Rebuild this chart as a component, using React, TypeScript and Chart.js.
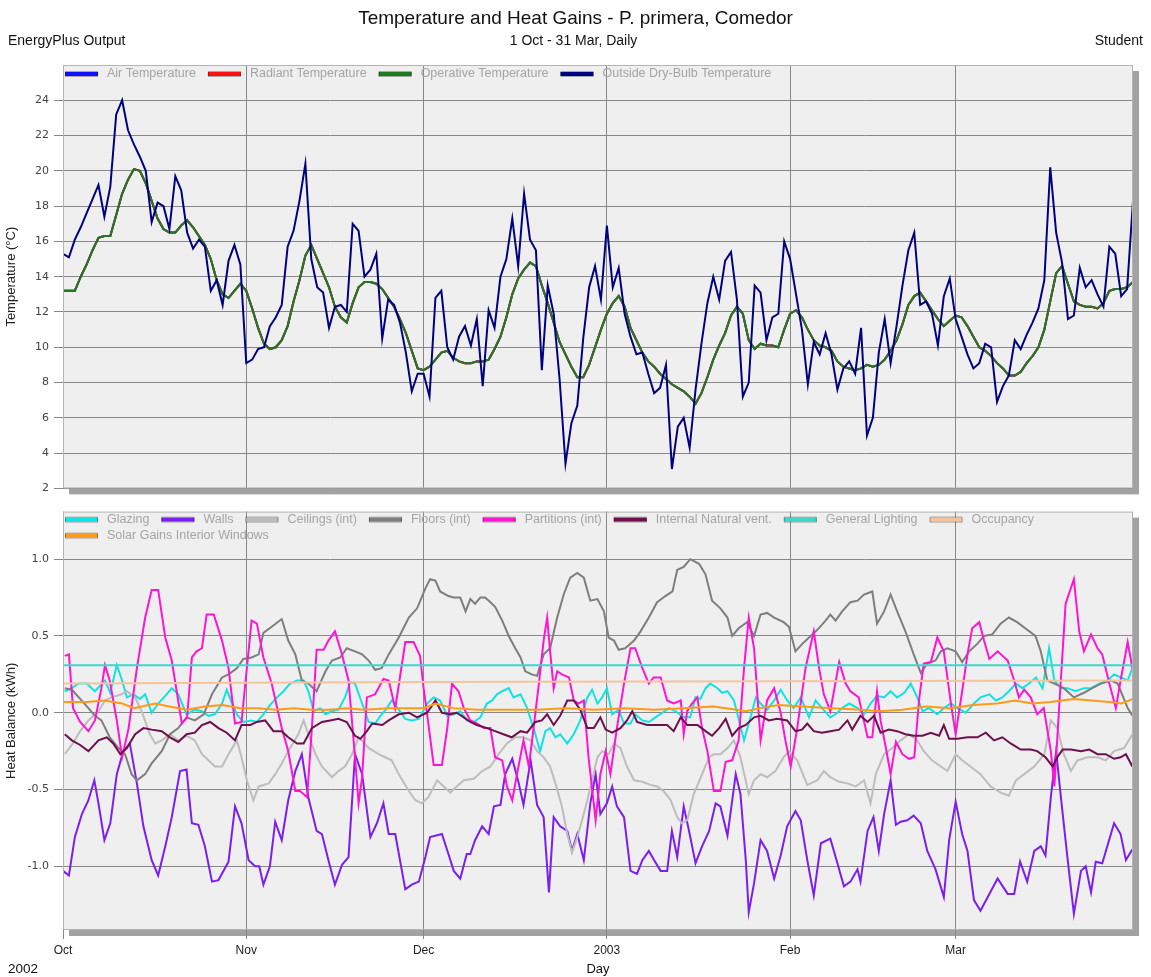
import { useEffect, useRef } from "react";
import { Chart, registerables } from "chart.js";

Chart.register(...registerables);

const FONT = "'Liberation Sans', Arial, sans-serif";
const TICK_FONT = "'DejaVu Sans', Verdana, sans-serif";

// ---------- axes ----------
const monthTicks = [0, 31, 61, 92, 123, 151];
const monthLabels = ["Oct", "Nov", "Dec", "2003", "Feb", "Mar"];
const tempTicks = [2, 4, 6, 8, 10, 12, 14, 16, 18, 20, 22, 24];
const heatTicks = [-1, -0.5, 0, 0.5, 1];

// ---------- top chart: daily temperatures (1 Oct .. 31 Mar) ----------
const outsideTemp = [
  15.3, 15.1, 16.1, 16.8, 17.6, 18.4, 19.2, 17.4, 19.1, 23.2,
  24.0, 22.3, 21.5, 20.8, 20.0, 17.1, 18.2, 18.0, 16.7, 19.7,
  18.9, 16.5, 15.6, 16.1, 15.7, 13.2, 13.8, 12.4, 14.9, 15.8,
  14.7, 9.1, 9.3, 9.9, 10.0, 11.2, 11.7, 12.4, 15.7, 16.6,
  18.3, 20.4, 15.0, 13.4, 13.1, 11.1, 12.3, 12.4, 12.0, 17.0,
  16.6, 14.0, 14.4, 15.3, 10.5, 12.7, 12.4, 11.4, 9.7, 7.5,
  8.5, 8.5, 7.2, 12.8, 13.2, 10.0, 9.3, 10.6, 11.2, 10.1,
  11.6, 7.8, 12.1, 11.1, 14.0, 15.0, 17.3, 14.6, 18.7, 16.1,
  15.5, 8.7, 13.5, 11.9, 8.2, 3.4, 5.7, 6.7, 10.5, 13.4,
  14.6, 12.7, 16.9, 13.4, 14.5, 11.9, 10.6, 9.6, 9.7, 8.5,
  7.4, 7.7, 9.0, 3.1, 5.5, 6.0, 4.3, 7.6, 10.2, 12.5,
  14.0, 12.7, 14.9, 15.4, 12.7, 7.2, 8.0, 13.5, 13.1, 10.4,
  11.7, 11.9, 16.0, 15.0, 13.0, 11.0, 7.9, 10.3, 9.6, 10.8,
  9.6, 7.6, 8.8, 9.2, 8.5, 11.1, 5.0, 6.0, 9.7, 11.6,
  9.1, 11.2, 13.5, 15.5, 16.5, 12.4, 12.6, 11.9, 10.1, 12.9,
  13.9, 11.6, 10.6, 9.6, 8.8, 9.1, 10.2, 10.0, 6.9, 7.8,
  8.4, 10.4, 9.9, 10.7, 11.4, 12.2, 13.8, 20.2, 16.5, 14.8,
  11.6, 11.8, 14.5, 13.4, 13.8, 13.0, 12.3, 15.7, 15.3, 12.9,
  13.3, 18.3,
];

const operativeTemp = [
  13.2, 13.2, 13.2, 14.0, 14.7, 15.5, 16.2, 16.3, 16.3, 17.5,
  18.7, 19.5, 20.1, 20.0, 19.3, 18.3, 17.3, 16.7, 16.5, 16.5,
  16.9, 17.2, 16.8, 16.3, 15.8, 15.0, 13.8, 13.0, 12.8, 13.2,
  13.6, 13.2, 12.2, 11.1, 10.2, 9.9, 10.0, 10.4, 11.2, 12.6,
  13.8, 15.2, 15.8, 15.0, 14.2, 13.4, 12.3, 11.7, 11.4, 12.5,
  13.4, 13.7, 13.7, 13.6, 13.3, 12.8, 12.3, 11.6, 10.8, 9.8,
  8.8, 8.7, 8.9, 9.3, 9.7, 9.8, 9.4, 9.2, 9.1, 9.1,
  9.2, 9.2, 9.3, 9.9, 10.6, 11.7, 13.0, 13.9, 14.4, 14.8,
  14.6, 13.5, 12.5, 11.4, 10.3, 9.6, 8.9, 8.3, 8.3, 9.0,
  10.0, 11.0, 11.9, 12.5, 12.9, 12.3, 11.1, 10.4, 9.7, 9.2,
  8.9, 8.5, 8.2, 7.9, 7.7, 7.5, 7.2, 6.8, 7.4, 8.3,
  9.3, 10.1, 10.8, 11.8, 12.3, 11.9, 10.4, 9.9, 10.2, 10.1,
  10.1, 10.0, 11.0, 11.9, 12.1, 11.7, 11.0, 10.4, 10.1, 10.0,
  9.8, 9.2, 8.9, 8.8, 8.7, 8.8, 9.0, 8.9, 9.0, 9.3,
  9.8, 10.4, 11.3, 12.4, 12.9, 13.1, 12.6, 12.1, 11.6, 11.2,
  11.5, 11.8, 11.7, 11.2, 10.6, 10.0, 9.8, 9.5, 9.1, 8.8,
  8.4, 8.4, 8.6, 9.1, 9.5, 10.0, 11.0, 12.6, 14.2, 14.6,
  13.6, 12.6, 12.4, 12.3, 12.3, 12.2, 12.5, 13.2, 13.3, 13.3,
  13.4, 13.7,
];

// air and radiant temperatures coincide with operative temperature at this scale
const airTemp = operativeTemp;
const radiantTemp = operativeTemp;

// ---------- bottom chart: heat balance [day, kWh] ----------
type P = [number, number];

const glazing: P[] = [
  [0.3,0.14],[1.5,0.16],[2.6,0.19],[4,0.19],[5.4,0.14],[7.1,0.21],[8,0.13],[9.1,0.31],[10,0.21],[10.8,0.10],
  [11.9,0.12],[13,0.09],[13.9,0.12],[15,0.0],[16.1,0.06],[17.3,0.11],[18.4,0.16],[19.5,0.12],[20.9,-0.01],[22.3,0.02],
  [23.5,0.01],[24.6,-0.02],[25.7,-0.01],[26.9,0.06],[27.7,0.15],[28.6,0.06],[29.4,-0.01],[30.5,-0.06],[31.9,-0.05],[32.8,-0.06],
  [33.9,-0.01],[35,0.05],[36.2,0.10],[37.3,0.14],[38.4,0.19],[39.6,0.21],[40.7,0.21],[41.5,0.14],[42.4,0.01],[43.5,0.03],
  [44.4,-0.01],[45.5,0.01],[46.6,0.02],[47.7,0.10],[48.6,0.20],[49.4,0.19],[50.6,0.06],[51.7,-0.06],[52.8,-0.07],[53.7,-0.02],
  [54.8,0.03],[55.6,0.08],[56.8,0.02],[57.9,-0.04],[59,-0.05],[60.2,-0.04],[61.6,0.06],[62.7,0.10],[63.8,0.08],[65,-0.02],
  [66.1,-0.01],[67.2,0.01],[68.3,-0.05],[69.5,-0.06],[70.6,-0.03],[71.7,0.06],[72.6,0.08],[73.4,0.12],[74.3,0.14],[75.4,0.16],
  [76.2,0.10],[77.4,0.12],[78.5,0.03],[79.6,-0.10],[80.7,-0.25],[81.6,-0.12],[82.4,-0.10],[83.3,-0.16],[84.1,-0.14],[85.3,-0.20],
  [86.4,-0.14],[87.5,-0.05],[88.7,0.10],[89.5,0.15],[90.4,0.06],[91.2,0.10],[92,0.16],[92.9,-0.01],[94,0.02],[94.9,-0.07],
  [96,-0.07],[96.8,-0.01],[98,-0.05],[99.1,-0.06],[100.2,-0.03],[101.4,0.0],[102.5,0.03],[103.6,0.01],[105,-0.03],[106.1,-0.03],
  [107,0.10],[107.8,0.09],[108.7,0.16],[109.5,0.19],[110.7,0.16],[111.5,0.13],[112.4,0.14],[113.5,0.08],[114.3,-0.04],[115.2,-0.18],
  [116.3,-0.03],[117.2,0.10],[118,0.06],[119.1,0.02],[120.3,0.08],[121.4,0.15],[122.5,0.08],[123.6,0.03],[124.8,0.10],[126.2,-0.03],
  [127.3,0.08],[128.4,0.03],[129.8,-0.03],[131,0.0],[131.8,0.03],[133,0.06],[134.4,0.03],[135.5,-0.01],[136.6,0.06],[137.7,0.11],
  [138.9,0.10],[140,0.14],[141.1,0.10],[142.3,0.13],[143.4,0.19],[144.5,0.10],[145.4,0.01],[146.5,0.03],[147.9,-0.01],[149,0.03],
  [150.2,0.06],[151.3,0.03],[152.7,0.0],[154.1,0.06],[155.2,0.10],[156.7,0.12],[157.8,0.08],[158.9,0.10],[160,0.14],[161.2,0.19],
  [162.3,0.16],[163.4,0.19],[164.6,0.23],[165.7,0.16],[166.8,0.42],[167.7,0.21],[168.8,0.16],[169.9,0.16],[171.3,0.14],[172.7,0.16],
  [173.9,0.16],[175.3,0.19],[176.7,0.21],[177.8,0.25],[178.9,0.23],[180.1,0.21],[180.9,0.29],
];

const walls: P[] = [
  [0,-1.03],[1,-1.06],[2,-0.81],[3.2,-0.66],[4.3,-0.57],[5.3,-0.44],[6,-0.59],[7,-0.83],[8,-0.72],[9.1,-0.40],
  [10.2,-0.25],[11.3,-0.20],[12.5,-0.46],[13.6,-0.74],[15,-0.96],[16.1,-1.06],[17.3,-0.87],[18.4,-0.68],[19.8,-0.38],[20.9,-0.37],
  [21.8,-0.72],[22.9,-0.73],[24,-0.87],[25.2,-1.10],[26.3,-1.09],[28,-0.97],[29.1,-0.61],[30.2,-0.72],[31.4,-0.96],[32.5,-1.0],
  [33.2,-1.0],[33.9,-1.12],[35,-1.0],[35.9,-0.71],[37,-0.83],[38.1,-0.57],[39.3,-0.38],[40.4,-0.27],[41.5,-0.55],[42.9,-0.77],
  [43.8,-0.79],[44.9,-0.96],[46,-1.12],[47.2,-0.99],[48.3,-0.94],[49.4,-0.27],[50.6,-0.40],[52,-0.81],[53.1,-0.72],[54.2,-0.59],
  [55.1,-0.79],[56.2,-0.79],[57.9,-1.15],[59,-1.12],[60.2,-1.10],[61.3,-0.94],[62.1,-0.81],[64.1,-0.79],[65.2,-0.92],[66.1,-1.03],
  [67.2,-1.08],[68.3,-0.92],[68.9,-0.92],[69.7,-0.83],[70.9,-0.74],[72,-0.79],[72.9,-0.61],[74,-0.60],[74.8,-0.40],[76,-0.30],
  [77.1,-0.46],[77.9,-0.60],[79.1,-0.31],[80.2,-0.60],[81.3,-0.68],[82.2,-1.17],[83,-0.68],[84.1,-0.74],[85.3,-0.77],[86.1,-0.90],
  [87,-0.79],[88.1,-0.96],[89.2,-0.59],[90.1,-0.40],[90.9,-0.66],[92,-0.59],[92.9,-0.48],[93.7,-0.61],[94.9,-0.68],[96,-1.03],
  [97.1,-1.05],[98,-0.96],[99.1,-0.90],[100,-0.96],[101.1,-1.03],[102.2,-1.03],[103,-0.77],[103.9,-0.94],[105,-0.61],[105.9,-0.77],
  [107,-0.98],[108.1,-0.87],[109.3,-0.77],[110.4,-0.59],[111.2,-0.61],[112.4,-0.80],[113.8,-0.40],[114.6,-0.53],[115.5,-0.96],[116,-1.30],
  [116.9,-1.11],[118,-0.83],[119.1,-0.90],[120.3,-1.08],[121.4,-0.93],[122.5,-0.74],[123.9,-0.64],[124.8,-0.70],[125.9,-0.96],[127,-1.19],
  [128.2,-0.85],[129.8,-0.82],[131,-0.98],[132.1,-1.13],[133.2,-1.10],[134.4,-1.02],[134.9,-1.10],[136.1,-0.77],[137.1,-0.68],[138,-0.90],
  [138.9,-0.66],[140,-0.44],[140.9,-0.73],[141.7,-0.71],[142.8,-0.70],[143.9,-0.67],[145.1,-0.72],[146.2,-0.90],[147.6,-1.02],[149,-1.20],
  [149.9,-0.83],[151,-0.58],[152.1,-0.79],[153,-0.90],[154.1,-1.22],[155.2,-1.29],[156.7,-1.18],[158.1,-1.08],[159.8,-1.18],[160.9,-1.18],
  [161.9,-0.97],[163.1,-1.10],[164.3,-0.90],[165.4,-0.87],[166.2,-0.93],[167.1,-0.55],[168,-0.25],[168.8,-0.55],[169.9,-0.94],[171,-1.31],
  [172.2,-1.03],[173,-1.00],[173.9,-1.17],[174.7,-0.97],[175.8,-0.98],[177.8,-0.72],[178.9,-0.79],[179.8,-0.96],[180.9,-0.89],
];

const ceilings: P[] = [
  [0.3,-0.27],[1.5,-0.21],[2.9,-0.12],[4.3,-0.05],[6,0.01],[7.1,0.08],[8.2,0.10],[9.9,0.12],[10.8,0.14],[12.2,0.10],
  [13.3,0.01],[14.7,-0.14],[15.6,-0.20],[16.7,-0.18],[18.1,-0.14],[19.5,-0.18],[20.9,-0.15],[22.3,-0.18],[23.5,-0.27],[24.6,-0.31],
  [25.7,-0.35],[26.9,-0.35],[28,-0.27],[29.4,-0.18],[30.2,-0.29],[31.1,-0.44],[32.2,-0.57],[33.1,-0.48],[34.8,-0.46],[35.9,-0.40],
  [37,-0.33],[38.1,-0.25],[39.8,-0.14],[40.7,-0.05],[41.5,-0.14],[42.7,-0.27],[43.8,-0.35],[45.5,-0.42],[46.6,-0.38],[47.7,-0.35],
  [48.9,-0.27],[50,-0.16],[51.7,-0.23],[53.4,-0.27],[54.5,-0.29],[55.6,-0.31],[56.8,-0.40],[58.5,-0.51],[59.6,-0.57],[60.7,-0.59],
  [61.8,-0.55],[63.3,-0.44],[64.4,-0.48],[65.5,-0.52],[66.6,-0.48],[67.8,-0.44],[69.5,-0.43],[70.9,-0.38],[72.3,-0.35],[73.7,-0.27],
  [75.1,-0.20],[76.5,-0.16],[77.9,-0.16],[79.1,-0.18],[80.2,-0.25],[81.3,-0.29],[82.4,-0.35],[83.3,-0.46],[84.4,-0.61],[85.3,-0.79],
  [86.1,-0.91],[87,-0.81],[87.8,-0.70],[88.7,-0.57],[89.5,-0.44],[90.4,-0.29],[91.2,-0.25],[92.3,-0.27],[93.2,-0.20],[94.3,-0.23],
  [95.4,-0.35],[96.6,-0.44],[98,-0.45],[99.4,-0.47],[100.5,-0.48],[101.6,-0.51],[102.8,-0.57],[103.9,-0.68],[104.7,-0.72],[105.6,-0.70],
  [106.7,-0.53],[108.1,-0.40],[109.3,-0.29],[110.1,-0.27],[111.2,-0.27],[112.4,-0.23],[113.5,-0.18],[114.6,-0.29],[116,-0.53],[116.9,-0.44],
  [118,-0.40],[119.1,-0.42],[120.5,-0.38],[121.9,-0.29],[122.8,-0.25],[124.2,-0.31],[125.9,-0.47],[127.6,-0.44],[128.7,-0.38],[129.8,-0.42],
  [131.3,-0.45],[132.7,-0.46],[134.1,-0.48],[135.5,-0.44],[136.6,-0.59],[137.5,-0.40],[138.9,-0.27],[140.3,-0.23],[141.7,-0.18],[143.1,-0.14],
  [144.5,-0.18],[145.6,-0.25],[147,-0.31],[148.5,-0.35],[149.6,-0.38],[151,-0.27],[152.1,-0.31],[153.5,-0.35],[155.2,-0.40],[156.9,-0.48],
  [158.6,-0.52],[160,-0.54],[161.2,-0.44],[162.6,-0.40],[164.3,-0.35],[166,-0.27],[167.1,-0.05],[168.2,-0.10],[169.3,-0.27],[170.5,-0.38],
  [171.6,-0.31],[173.3,-0.29],[175,-0.29],[176.4,-0.31],[177.8,-0.25],[179.5,-0.23],[180.9,-0.14],
];

const floors: P[] = [
  [0.3,0.16],[1.5,0.15],[2.9,0.09],[4.3,0.03],[5.4,-0.02],[6.5,-0.05],[7.9,-0.16],[9.4,-0.23],[10.5,-0.27],[11.6,-0.40],
  [12.5,-0.44],[13.9,-0.40],[15,-0.33],[16.7,-0.25],[18.1,-0.14],[19.5,-0.10],[20.9,-0.03],[22.3,-0.05],[23.8,-0.01],[25.2,0.12],
  [26.9,0.23],[28,0.25],[29.4,0.29],[30.5,0.35],[31.9,0.36],[33.1,0.38],[33.9,0.52],[35.3,0.56],[37,0.61],[38.1,0.47],
  [39.3,0.38],[40.4,0.21],[41.5,0.19],[42.9,0.14],[44.4,0.27],[45.5,0.34],[46.9,0.36],[48,0.42],[49.4,0.40],[50.6,0.38],
  [51.7,0.34],[52.8,0.28],[53.9,0.29],[55.1,0.38],[56.8,0.49],[58.5,0.62],[59.9,0.68],[61.3,0.81],[62.1,0.87],[63,0.86],
  [63.8,0.79],[65.2,0.76],[66.1,0.75],[67.2,0.75],[68.1,0.66],[68.9,0.74],[69.7,0.71],[70.6,0.75],[71.4,0.75],[72.3,0.72],
  [73.1,0.69],[74.3,0.60],[75.4,0.50],[76.5,0.42],[77.4,0.36],[78.2,0.27],[79.3,0.25],[80.2,0.24],[81.3,0.38],[82.4,0.42],
  [83.6,0.62],[84.7,0.77],[85.8,0.88],[87,0.91],[88.1,0.88],[89.2,0.73],[90.4,0.74],[91.5,0.66],[92.3,0.49],[93.2,0.47],
  [94,0.41],[95.1,0.42],[96.6,0.47],[97.7,0.53],[99.1,0.62],[100.5,0.72],[101.9,0.76],[103.1,0.79],[103.9,0.93],[105,0.95],
  [106.1,1.0],[107.6,0.97],[108.7,0.90],[109.8,0.73],[111.2,0.68],[112.4,0.62],[113.2,0.50],[114.3,0.55],[115.7,0.59],[116.9,0.50],
  [118,0.64],[119.1,0.65],[120.3,0.62],[121.9,0.59],[122.8,0.56],[123.9,0.40],[125.1,0.45],[126.2,0.49],[127.6,0.54],[129,0.60],
  [129.8,0.64],[130.7,0.60],[131.8,0.66],[133.2,0.72],[134.4,0.73],[135.5,0.77],[136.9,0.79],[137.7,0.58],[138.9,0.66],[140,0.77],
  [141.1,0.66],[142.5,0.53],[143.9,0.38],[145.1,0.26],[146.2,0.32],[147.6,0.34],[148.5,0.40],[149.6,0.42],[151,0.40],[152.1,0.33],
  [153.3,0.40],[154.7,0.45],[155.8,0.50],[157.2,0.51],[158.6,0.58],[160,0.62],[161.4,0.59],[163.1,0.54],[164.5,0.50],[165.4,0.40],
  [166.5,0.21],[167.7,0.19],[169.3,0.16],[171,0.10],[172.7,0.13],[174.1,0.16],[175.6,0.19],[177.3,0.21],[178.4,0.19],[180.1,0.03],
  [180.9,-0.02],
];

const partitions: P[] = [
  [0.3,0.37],[1,0.38],[1.7,0.03],[2.9,-0.06],[4.3,-0.12],[5.4,-0.05],[6.5,0.16],[7.1,0.31],[7.9,0.21],[9.1,-0.05],
  [10,-0.29],[11.1,-0.10],[12.5,0.29],[13.9,0.62],[15,0.80],[16.1,0.80],[17.3,0.49],[18.4,0.34],[20.1,-0.07],[21,-0.03],
  [21.8,0.36],[22.6,0.40],[23.5,0.42],[24.3,0.64],[25.5,0.64],[26.9,0.47],[28,0.29],[29.1,-0.07],[30.2,-0.06],[31.9,0.60],
  [32.8,0.58],[33.9,0.36],[35.3,0.19],[37,-0.10],[38.1,-0.25],[39.3,-0.51],[40.1,-0.51],[41.3,-0.55],[42.1,-0.10],[42.9,0.41],
  [44.1,0.41],[44.9,0.47],[46,0.53],[47.2,0.38],[48.3,0.21],[49.4,-0.29],[50,-0.59],[50.6,-0.42],[51.4,0.10],[52.8,0.12],
  [54.2,0.22],[55.1,0.21],[56.2,0.03],[57.9,0.46],[59.3,0.46],[60.4,0.37],[61,0.16],[61.6,-0.01],[62.7,-0.34],[64.1,-0.34],
  [65,-0.10],[65.8,0.19],[66.9,0.14],[67.8,0.03],[68.9,-0.05],[70,-0.07],[71.2,-0.10],[72.3,-0.10],[73.1,-0.29],[74.3,-0.31],
  [75.1,-0.48],[76,-0.57],[76.8,-0.40],[77.9,-0.18],[78.8,-0.35],[79.6,-0.10],[80.5,0.19],[81.3,0.47],[81.9,0.62],[82.4,0.40],
  [83,0.16],[83.6,0.27],[84.4,0.25],[85.6,0.23],[86.4,0.08],[87.2,0.06],[88.1,0.08],[88.9,-0.29],[90.1,-0.70],[90.9,-0.40],
  [91.8,-0.25],[92.6,-0.40],[93.7,-0.10],[94.9,0.19],[96,0.42],[96.8,0.42],[98,0.29],[99.1,0.19],[99.9,0.23],[101.1,0.23],
  [102.2,0.08],[103.3,0.06],[104.5,0.08],[105,-0.14],[105.6,0.01],[106.4,0.06],[107.3,0.10],[108.1,-0.10],[109,-0.25],[110.1,-0.51],
  [111.2,-0.51],[112.1,-0.32],[113.2,-0.31],[114.3,-0.18],[115.2,0.29],[116,0.62],[116.9,0.42],[118,-0.18],[119.1,0.08],[120.3,0.16],
  [121.4,0.0],[122.2,-0.18],[123.1,-0.35],[124.2,-0.10],[125.6,0.29],[127,0.53],[127.9,0.29],[128.7,0.12],[129.8,0.01],[131.3,0.33],
  [132.4,0.19],[133.2,0.14],[134.6,0.10],[136.1,-0.16],[136.9,-0.16],[137.7,0.14],[138.3,-0.05],[139.2,-0.23],[140,-0.40],[140.9,-0.19],
  [142,-0.27],[143.1,-0.30],[144,-0.29],[144.8,0.08],[145.6,0.32],[146.8,0.33],[147.9,0.49],[149,0.40],[150.2,0.06],[151,-0.14],
  [152.1,0.14],[153,0.38],[153.8,0.55],[155,0.59],[155.8,0.47],[156.7,0.35],[158.1,0.40],[159.8,0.34],[160.9,0.21],[161.7,0.10],
  [162.6,0.15],[163.7,0.10],[164.8,-0.01],[165.9,0.03],[167.1,-0.25],[167.7,-0.48],[168.5,0.03],[169.6,0.71],[171,0.87],[171.9,0.53],
  [172.7,0.40],[173.9,0.51],[175,0.42],[175.8,0.38],[177,0.19],[178.1,0.03],[178.9,0.21],[180.1,0.46],[180.9,0.29],
];

const naturalVent: P[] = [
  [0.3,-0.14],[1.5,-0.18],[2.9,-0.21],[4.3,-0.25],[6,-0.18],[7.4,-0.16],[8.5,-0.20],[9.7,-0.27],[10.8,-0.23],[12.2,-0.14],
  [13.6,-0.10],[15,-0.11],[16.7,-0.12],[18.1,-0.16],[19.5,-0.19],[20.9,-0.14],[22.3,-0.13],[23.5,-0.08],[24.9,-0.06],[26.3,-0.10],
  [27.7,-0.13],[29.1,-0.18],[30.2,-0.08],[31.7,-0.08],[32.8,-0.06],[34.2,-0.05],[35.6,-0.12],[37,-0.12],[38.1,-0.16],[39.6,-0.20],
  [40.7,-0.20],[42.1,-0.10],[43.8,-0.06],[45.2,-0.05],[46.6,-0.04],[48,-0.06],[49.4,-0.15],[50.3,-0.17],[51.4,-0.12],[52.3,-0.07],
  [54,-0.08],[55.1,-0.05],[56.8,-0.01],[58.5,0.0],[59.9,-0.03],[61.6,0.0],[63,0.08],[64.1,0.0],[65.5,-0.01],[66.6,0.0],
  [67.8,-0.03],[68.9,-0.06],[70,-0.08],[71.7,-0.10],[73.1,-0.12],[74.5,-0.14],[75.9,-0.16],[77.4,-0.12],[78.5,-0.13],[79.9,-0.06],
  [81,-0.05],[81.9,-0.01],[83,-0.08],[84.1,-0.02],[85.3,0.08],[86.4,0.08],[87.5,0.02],[88.7,-0.10],[89.8,-0.10],[90.9,-0.03],
  [91.8,-0.11],[92.9,-0.13],[94.3,-0.10],[95.4,-0.05],[96.3,0.01],[97.1,-0.06],[98.8,-0.08],[100.5,-0.08],[102.2,-0.08],[103.3,-0.12],
  [104.5,-0.03],[105.6,-0.08],[107.3,-0.08],[108.7,-0.12],[109.8,-0.15],[111,-0.10],[112.1,-0.04],[113.2,-0.15],[114.3,-0.10],[115.5,-0.08],
  [116.9,-0.03],[118,-0.02],[119.4,-0.05],[120.8,-0.04],[122.5,-0.05],[123.9,-0.12],[125,-0.11],[125.9,-0.07],[127,-0.12],[128.4,-0.13],
  [129.8,-0.12],[131.3,-0.11],[132.7,-0.05],[133.5,-0.11],[134.9,-0.02],[136.1,-0.06],[137.2,-0.02],[138.3,-0.13],[139.7,-0.11],[141.1,-0.12],
  [142.5,-0.14],[143.9,-0.15],[145.4,-0.15],[146.8,-0.13],[148.2,-0.15],[149,-0.08],[149.9,-0.17],[151.3,-0.17],[153,-0.16],[154.7,-0.16],
  [156.1,-0.13],[157.5,-0.18],[158.9,-0.16],[160.3,-0.20],[162,-0.24],[163.7,-0.24],[164.8,-0.25],[166.2,-0.29],[167.4,-0.35],[168.2,-0.29],
  [169.1,-0.24],[170.5,-0.24],[172.2,-0.25],[173.6,-0.24],[175,-0.27],[176.4,-0.27],[177.8,-0.30],[178.9,-0.29],[179.8,-0.27],[180.9,-0.35],
];

const generalLighting: P[] = [[0, 0.31], [181, 0.31]];

const occupancy: P[] = [[0, 0.19], [60, 0.2], [120, 0.205], [181, 0.21]];

const solarGains: P[] = [
  [0,0.07],[4,0.07],[7,0.08],[10,0.06],[12,0.03],[15.6,0.06],[18,0.04],[21,0.02],[24,0.04],[27,0.05],
  [30,0.03],[33,0.03],[36,0.02],[39,0.03],[42,0.02],[45,0.02],[48,0.03],[51,0.02],[55,0.03],[58,0.03],
  [61,0.03],[63,0.06],[66,0.03],[70,0.02],[75,0.02],[80,0.02],[85,0.03],[90,0.02],[95,0.03],[100,0.02],
  [105,0.03],[110,0.04],[114,0.02],[115.5,0.01],[118,0.03],[121,0.05],[125,0.04],[130,0.03],[135,0.02],[138,0.01],
  [142,0.02],[146,0.04],[150,0.03],[154,0.05],[158,0.06],[161,0.08],[164,0.06],[167,0.07],[171,0.09],[174,0.08],
  [177,0.07],[179,0.06],[181,0.09],
];

// ---------- plugin: plot box, shadow, in-plot legend ----------
const plotBox = {
  id: "plotBox",
  beforeDraw(chart: any) {
    const { ctx, chartArea: a } = chart;
    ctx.save();
    ctx.fillStyle = "#a2a2a2";
    ctx.fillRect(a.left + 6, a.top + 6, a.right - a.left, a.bottom - a.top);
    ctx.fillStyle = "#efefef";
    ctx.fillRect(a.left, a.top, a.right - a.left, a.bottom - a.top);
    ctx.restore();
  },
  afterDraw(chart: any, _args: any, opts: any) {
    const { ctx, chartArea: a } = chart;
    ctx.save();
    ctx.strokeStyle = "#b4b4b4";
    ctx.lineWidth = 1;
    ctx.strokeRect(a.left + 0.5, a.top + 0.5, a.right - a.left - 1, a.bottom - a.top - 1);
    ctx.font = `12.5px ${FONT}`;
    ctx.textBaseline = "middle";
    let x = a.left + 2;
    let y = a.top + (opts.legendTop ?? 9);
    chart.data.datasets.forEach((ds: any) => {
      const tw = ctx.measureText(ds.label).width;
      const w = 33 + 9 + tw;
      if (x + w > a.right - 8) {
        x = a.left + 2;
        y += opts.rowHeight ?? 16;
      }
      ctx.fillStyle = ds.borderColor;
      ctx.fillRect(x, y - 2, 33, 4);
      ctx.strokeStyle = "rgba(0,0,0,0.3)";
      ctx.strokeRect(x + 0.5, y - 2.5, 32, 5);
      ctx.fillStyle = "#a4a4a4";
      ctx.fillText(ds.label, x + 42, y);
      x += w + 12;
    });
    ctx.restore();
  },
};

const GRID = "#878787";

function line(label: string, color: string, data: { x: number; y: number }[], i: number) {
  return {
    label,
    data,
    borderColor: color,
    backgroundColor: color,
    borderWidth: 2,
    pointRadius: 0,
    tension: 0,
    fill: false,
    order: -i,
  };
}

const daily = (arr: number[]) => arr.map((y, i) => ({ x: i, y }));
const pairs = (arr: P[]) => arr.map(([x, y]) => ({ x, y }));

function yTitle(text: string) {
  return {
    display: true,
    text,
    color: "#222",
    font: { family: FONT, size: 13 },
    padding: { top: 4, bottom: 0 },
  };
}

function TopChart() {
  const ref = useRef<HTMLCanvasElement>(null);
  useEffect(() => {
    const chart = new Chart(ref.current!, {
      type: "line",
      data: {
        datasets: [
          line("Air Temperature", "#1010ff", daily(airTemp), 0),
          line("Radiant Temperature", "#ff1010", daily(radiantTemp), 1),
          line("Operative Temperature", "#1e7b1e", daily(operativeTemp), 2),
          line("Outside Dry-Bulb Temperature", "#000080", daily(outsideTemp), 3),
        ],
      },
      options: {
        responsive: false,
        animation: false,
        events: [],
        layout: { padding: { top: 65, right: 18, bottom: 11, left: 0 } },
        plugins: {
          legend: { display: false },
          tooltip: { enabled: false },
          plotBox: { legendTop: 9 },
        } as any,
        scales: {
          x: {
            type: "linear",
            min: 0,
            max: 181,
            afterBuildTicks: (s: any) => {
              s.ticks = monthTicks.map((v) => ({ value: v }));
            },
            afterFit: (s: any) => {
              s.height = 0;
            },
            ticks: { display: false },
            grid: { color: GRID, drawTicks: false },
            border: { display: false },
          },
          y: {
            min: 2,
            max: 26,
            afterBuildTicks: (s: any) => {
              s.ticks = tempTicks.map((v) => ({ value: v }));
            },
            afterFit: (s: any) => {
              s.width = 63;
            },
            ticks: {
              color: "#444",
              font: { family: TICK_FONT, size: 11 },
              padding: 5,
            },
            grid: { color: GRID, tickLength: 9 },
            border: { display: false },
            title: yTitle("Temperature (°C)"),
          },
        },
      },
      plugins: [plotBox],
    } as any);
    return () => chart.destroy();
  }, []);
  return (
    <canvas
      ref={ref}
      width={1151}
      height={500}
      style={{ position: "absolute", left: 0, top: 0, width: 1151, height: 500 }}
    />
  );
}

function BottomChart() {
  const ref = useRef<HTMLCanvasElement>(null);
  useEffect(() => {
    const chart = new Chart(ref.current!, {
      type: "line",
      data: {
        datasets: [
          line("Glazing", "#12e2e2", pairs(glazing), 0),
          line("Walls", "#7a1ef2", pairs(walls), 1),
          line("Ceilings (int)", "#bdbdbd", pairs(ceilings), 2),
          line("Floors (int)", "#7e7e7e", pairs(floors), 3),
          line("Partitions (int)", "#ff14d2", pairs(partitions), 4),
          line("Internal Natural vent.", "#6e0f4e", pairs(naturalVent), 5),
          line("General Lighting", "#3cd8cc", pairs(generalLighting), 6),
          line("Occupancy", "#f6c3a0", pairs(occupancy), 7),
          line("Solar Gains Interior Windows", "#ff9a18", pairs(solarGains), 8),
        ],
      },
      options: {
        responsive: false,
        animation: false,
        events: [],
        layout: { padding: { top: 10, right: 18, bottom: 0, left: 0 } },
        plugins: {
          legend: { display: false },
          tooltip: { enabled: false },
          plotBox: { legendTop: 8, rowHeight: 16 },
        } as any,
        scales: {
          x: {
            type: "linear",
            min: 0,
            max: 181,
            afterBuildTicks: (s: any) => {
              s.ticks = monthTicks.map((v) => ({ value: v }));
            },
            afterFit: (s: any) => {
              s.height = 47;
            },
            ticks: {
              autoSkip: false,
              maxRotation: 0,
              color: "#222",
              font: { family: FONT, size: 12 },
              padding: 4,
              callback: (_v: any, i: number) => monthLabels[i],
            },
            grid: { color: GRID, tickLength: 9 },
            border: { display: false },
          },
          y: {
            min: -1.415,
            max: 1.31,
            afterBuildTicks: (s: any) => {
              s.ticks = heatTicks.map((v) => ({ value: v }));
            },
            afterFit: (s: any) => {
              s.width = 63;
            },
            ticks: {
              color: "#444",
              font: { family: TICK_FONT, size: 11 },
              padding: 5,
              callback: (v: any) => Number(v).toFixed(1),
            },
            grid: { color: GRID, tickLength: 9 },
            border: { display: false },
            title: yTitle("Heat Balance (kWh)"),
          },
        },
      },
      plugins: [plotBox],
    } as any);
    return () => chart.destroy();
  }, []);
  return (
    <canvas
      ref={ref}
      width={1151}
      height={477}
      style={{ position: "absolute", left: 0, top: 500, width: 1151, height: 477 }}
    />
  );
}

const txt = (extra: any) => ({
  position: "absolute" as const,
  fontFamily: FONT,
  color: "#111",
  whiteSpace: "nowrap" as const,
  lineHeight: "16px",
  ...extra,
});

export default function App() {
  return (
    <div
      style={{
        position: "absolute",
        left: 0,
        top: 0,
        width: 1151,
        height: 977,
        background: "#fff",
        overflow: "hidden",
      }}
    >
      <TopChart />
      <BottomChart />
      <div style={txt({ left: 0, width: 1151, top: 7, textAlign: "center", fontSize: 19, lineHeight: "22px" })}>
        Temperature and Heat Gains - P. primera, Comedor
      </div>
      <div style={txt({ left: 8, top: 32, fontSize: 14 })}>EnergyPlus Output</div>
      <div style={txt({ left: 0, width: 1147, top: 32, textAlign: "center", fontSize: 14 })}>
        1 Oct - 31 Mar, Daily
      </div>
      <div style={txt({ right: 8, top: 32, fontSize: 14 })}>Student</div>
      <div style={txt({ left: 8, top: 961, fontSize: 13.5 })}>2002</div>
      <div style={txt({ left: 498, width: 200, top: 961, textAlign: "center", fontSize: 13 })}>Day</div>
    </div>
  );
}
